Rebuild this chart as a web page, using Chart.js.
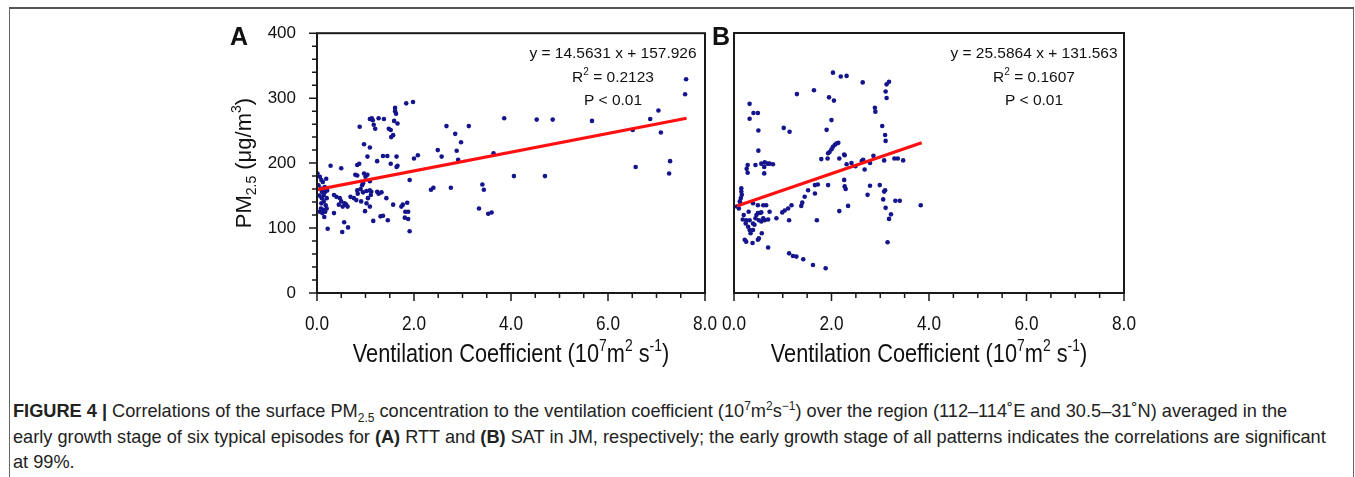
<!DOCTYPE html>
<html>
<head>
<meta charset="utf-8">
<script src="https://cdn.jsdelivr.net/npm/chart.js@4"></script>
<style>
  body { margin: 0; background: #fff; width: 1355px; height: 477px; overflow: hidden; position: relative; }
  .frame { position: absolute; left: 9px; top: 7px; width: 1343px; height: 480px;
           border-top: 2px solid #555; border-left: 1px solid #666; border-right: 1px solid #666; }
  canvas { position: absolute; }
  #chartA { left: 200px; top: 2px; }
  #chartB { left: 706px; top: 15px; }
  .caption { position: absolute; left: 13px; top: 399px; width: 1338px; white-space: nowrap;
             font-family: "Liberation Sans", Arial, sans-serif; font-size: 18.2px; line-height: 25.5px; color: #222; }
  .caption sub, .caption sup { font-size: 12px; line-height: 0; }
</style>
</head>
<body>
<div class="frame"></div>
<canvas id="chartA" width="520" height="383"></canvas>
<canvas id="chartB" width="440" height="370"></canvas>
<div class="caption">
<b>FIGURE 4 |</b> Correlations of the surface PM<sub>2.5</sub> concentration to the ventilation coefficient (10<sup>7</sup>m<sup>2</sup>s<sup>&minus;1</sup>) over the region (112&ndash;114&#730;E and 30.5&ndash;31&#730;N) averaged in the<br>
early growth stage of six typical episodes for <b>(A)</b> RTT and <b>(B)</b> SAT in JM, respectively; the early growth stage of all patterns indicates the correlations are significant<br>
at 99%.
</div>
<script>
// panel A (RTT): ventilation coefficient vs PM2.5
const xA = [0.01,0.06,0.09,0.12,0.19,0.03,0.08,0.10,0.14,0.17,0.10,0.14,0.09,0.08,0.13,0.11,0.17,0.15,0.20,0.22,0.20,0.05,0.12,0.18,0.06,0.16,0.21,
  0.28,0.50,0.35,0.40,0.35,0.47,0.50,0.57,0.60,0.63,0.69,0.76,0.45,0.53,0.56,0.64,0.52,
  0.84,0.81,0.91,0.88,0.87,0.83,0.97,1.09,1.04,0.79,0.83,0.97,1.00,1.04,1.09,0.95,0.93,0.83,0.90,0.95,1.02,1.09,1.12,1.05,1.11,1.02,1.09,0.99,1.16,1.09,1.13,1.15,1.17,1.20,1.24,
  1.27,1.38,1.24,1.27,1.33,1.43,1.31,1.36,1.46,1.36,1.45,1.52,1.64,1.64,1.59,1.66,1.52,1.48,1.57,1.53,1.61,1.61,1.63,1.84,1.98,1.57,1.74,1.77,1.86,1.82,1.88,1.81,1.88,1.91,1.91,1.66,2.00,2.08,
  2.35,2.40,2.49,2.57,2.67,2.76,2.85,2.88,2.91,2.97,3.13,3.34,3.41,3.44,3.53,3.60,3.64,3.86,4.06,4.53,4.70,4.86,5.67,6.51,6.57,6.87,7.04,7.09,7.26,7.28,7.59,7.61];
const yA = [184,179,174,171,176,166,161,156,151,156,146,141,138,130,128,123,125,117,130,99,146,150,160,135,125,163,158,
  196,192,151,148,123,146,141,138,136,133,148,146,136,133,109,101,94,
  153,143,141,256,199,197,229,224,210,182,181,184,179,182,172,169,166,158,160,155,157,158,156,146,151,138,133,126,111,268,269,266,259,253,203,
  269,268,156,153,155,146,118,119,112,211,211,199,210,194,265,261,251,253,243,240,285,280,276,292,294,136,133,136,139,125,125,116,114,95,174,196,207,212,
  159,162,220,210,257,162,245,219,205,232,257,130,167,159,122,124,215,269,180,267,180,267,265,251,194,268,281,247,184,203,306,329];

// panel B (SAT)
const xB = [0.15,0.15,0.16,0.14,0.12,0.10,0.06,0.13,
  0.32,0.40,0.49,0.32,0.50,0.50,0.28,0.26,0.28,0.44,0.56,0.63,0.69,0.73,0.62,0.62,0.80,1.02,1.14,1.29,1.64,
  0.18,0.25,0.32,0.24,0.29,0.32,0.39,0.34,0.22,0.25,0.38,0.49,0.51,0.42,0.39,0.46,0.49,0.53,0.56,0.44,0.60,0.63,0.56,0.51,0.70,0.73,0.87,0.99,1.04,1.11,1.18,1.13,
  1.38,1.40,1.45,1.52,1.66,1.72,1.66,1.70,1.93,0.70,1.13,1.21,1.28,1.42,1.62,1.88,0.39,0.49,0.60,0.66,0.20,0.30,0.57,
  1.79,1.92,1.93,1.96,2.00,2.03,2.07,2.10,2.14,2.16,2.27,1.90,2.00,1.95,2.05,2.03,2.19,2.31,2.64,
  3.18,3.13,3.11,3.13,2.89,2.90,3.04,3.10,3.11,2.26,2.31,2.41,2.49,2.62,2.65,2.68,2.79,2.86,3.08,3.29,3.36,3.47,
  2.26,2.27,2.29,2.79,2.74,2.99,3.10,3.08,3.06,3.31,3.40,3.11,3.22,3.18,3.83,2.34,2.16,3.15];
const yB = [161,156,151,146,141,130,133,137,
  291,277,277,268,250,219,197,191,185,197,199,201,199,199,194,184,198,254,248,306,312,
  113,112,112,107,102,97,97,92,82,79,77,82,84,105,107,120,123,123,124,115,115,112,110,112,113,125,115,124,127,130,135,112,
  134,139,148,158,166,167,153,112,166,70,61,57,56,52,43,38,138,135,135,135,120,125,92,
  206,207,215,217,221,225,228,230,231,207,212,251,266,301,296,339,333,334,324,
  325,321,310,300,285,279,257,243,234,213,198,200,195,203,205,190,200,211,204,207,207,204,
  174,164,160,165,151,166,158,156,144,142,142,131,121,114,135,134,126,78];

// fitted lines, end points
const fitAx = [0.0, 7.62];
const fitAy = [159, 269];
const fitBx = [0.06, 3.85];
const fitBy = [134, 231];

const eqA = ['y = 14.5631 x + 157.926', '0.2123', 'P < 0.01'];
const eqB = ['y = 25.5864 x + 131.563', '0.1607', 'P < 0.01'];

const xTicks = [0, 2, 4, 6, 8];
const yTicks = [0, 100, 200, 300, 400];

const SANS = '"Liberation Sans", Arial, sans-serif';

// draws text made of [text, 'sup'|'sub'|''] pieces, squeezed by sx
function drawRich(ctx, parts, x, y, size, sx) {
    const small = Math.round(size * 0.62);
    let total = 0;
    const widths = parts.map(p => {
        ctx.font = (p[1] ? small : size) + 'px ' + SANS;
        const w = ctx.measureText(p[0]).width;
        total += w;
        return w;
    });
    ctx.save();
    ctx.translate(x, y);
    ctx.scale(sx, 1);
    let cx = -total / 2;
    ctx.textAlign = 'left';
    ctx.textBaseline = 'alphabetic';
    parts.forEach((p, i) => {
        ctx.font = (p[1] ? small : size) + 'px ' + SANS;
        let dy = 0;
        if (p[1] === 'sup') dy = -size * 0.45;
        if (p[1] === 'sub') dy = size * 0.22;
        ctx.fillText(p[0], cx, dy);
        cx += widths[i];
    });
    ctx.restore();
}

const decor = {
    id: 'decor',
    afterDraw(chart, args, opts) {
        const ctx = chart.ctx;
        const a = chart.chartArea;
        const xs = chart.scales.x, ys = chart.scales.y;
        ctx.save();
        ctx.strokeStyle = '#1a1a1a';
        ctx.lineWidth = 2;
        ctx.strokeRect(a.left, a.top, a.right - a.left, a.bottom - a.top);

        // tick marks, major and minor
        ctx.lineWidth = 1.5;
        ctx.beginPath();
        for (let v = 0; v <= 8; v += 0.5) {
            const px = xs.getPixelForValue(v);
            ctx.moveTo(px, a.bottom);
            ctx.lineTo(px, a.bottom + (v % 2 === 0 ? 8 : 5));
        }
        if (opts.yTicks) {
            for (let v = 0; v <= 400; v += 20) {
                const py = ys.getPixelForValue(v);
                ctx.moveTo(a.left, py);
                ctx.lineTo(a.left - (v % 100 === 0 ? 8 : 5), py);
            }
        }
        ctx.stroke();

        ctx.fillStyle = '#111';
        // x tick labels, narrow face
        xs.ticks.forEach(t => {
            drawRich(ctx, [[t.value.toFixed(1), '']], xs.getPixelForValue(t.value), a.bottom + 37, 21, 0.82);
        });

        // panel letter
        ctx.font = 'bold 25px ' + SANS;
        ctx.textAlign = 'left';
        ctx.textBaseline = 'alphabetic';
        ctx.fillText(opts.letter, a.left - opts.letterOff, a.top + 12);

        // regression text
        const cx = a.right - opts.eqOff;
        ctx.textAlign = 'center';
        ctx.font = '15.5px ' + SANS;
        ctx.fillText(opts.eq[0], cx, a.top + 25);
        drawRich(ctx, [['R', ''], ['2', 'sup'], [' = ' + opts.eq[1], '']], cx, a.top + 49, 15.5, 1);
        ctx.textAlign = 'center';
        ctx.font = '15.5px ' + SANS;
        ctx.fillText(opts.eq[2], cx, a.top + 72);

        // x axis title
        drawRich(ctx, [['Ventilation Coefficient (10', ''], ['7', 'sup'], ['m', ''], ['2', 'sup'], [' s', ''], ['-1', 'sup'], [')', '']],
            (a.left + a.right) / 2, a.bottom + 69, 25, 0.87);

        // y axis title
        if (opts.yTitle) {
            ctx.translate(a.left - 66, (a.top + a.bottom) / 2);
            ctx.rotate(-Math.PI / 2);
            drawRich(ctx, [['PM', ''], ['2.5', 'sub'], [' (\u03bcg/m', ''], ['3', 'sup'], [')', '']], 0, 0, 22, 1);
        }
        ctx.restore();
    }
};

function makeChart(id, xs, ys, fx, fy, opts) {
    const pts = xs.map((x, i) => ({ x: x, y: ys[i] }));
    const fit = fx.map((x, i) => ({ x: x, y: fy[i] }));
    const ctx = document.getElementById(id).getContext('2d');
    return new Chart(ctx, {
        type: 'scatter',
        data: {
            datasets: [
                { data: fit, type: 'line', showLine: true, borderColor: '#ff1010', borderWidth: 3.2,
                  pointRadius: 0, fill: false, order: 0 },
                { data: pts, backgroundColor: '#14148c', borderWidth: 0, pointRadius: 2.3, order: 1 }
            ]
        },
        options: {
            responsive: false,
            animation: false,
            events: [],
            // note: y tick padding also counts as top padding in the layout
            layout: { autoPadding: false, padding: { top: 18, right: opts.padRight, left: 0, bottom: 0 } },
            plugins: { legend: { display: false }, tooltip: { enabled: false }, decor: opts },
            scales: {
                x: {
                    type: 'linear', min: 0, max: 8,
                    afterBuildTicks: s => { s.ticks = xTicks.map(v => ({ value: v })); },
                    ticks: { display: false },
                    grid: { display: false, drawTicks: false },
                    border: { display: false },
                    afterFit: s => { s.height = 92; }
                },
                y: {
                    min: 0, max: 400,
                    afterBuildTicks: s => { s.ticks = yTicks.map(v => ({ value: v })); },
                    ticks: { display: opts.yTicks, color: '#111', padding: 21,
                             font: { family: SANS, size: 17 } },
                    grid: { display: false, drawTicks: false },
                    border: { display: false },
                    afterFit: s => { s.width = opts.yWidth; }
                }
            }
        },
        plugins: [decor]
    });
}

makeChart('chartA', xA, yA, fitAx, fitAy,
    { letter: 'A', letterOff: 87, eq: eqA, eqOff: 92, yTicks: true, yTitle: true, yWidth: 117, padRight: 15 });
makeChart('chartB', xB, yB, fitBx, fitBy,
    { letter: 'B', letterOff: 22, eq: eqB, eqOff: 90, yTicks: false, yTitle: false, yWidth: 28, padRight: 22 });
</script>
</body>
</html>
